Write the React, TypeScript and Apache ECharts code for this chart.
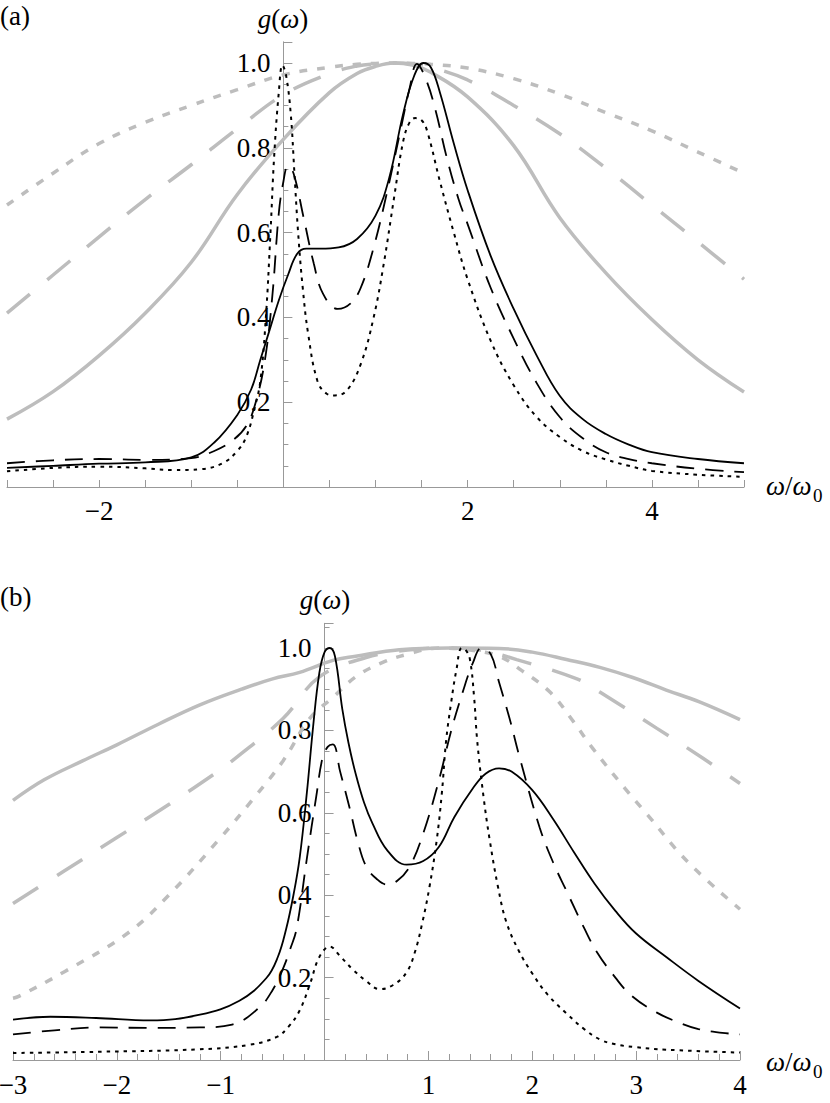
import React, { useEffect, useRef } from 'react';
import * as echarts from 'echarts';

const FONT = '"Liberation Serif", "DejaVu Serif", serif';
const AX = '#999999';
const GRAY = '#bdbdbd';
const BLACK = '#000000';

// ---------- Panel (a) ----------
const aGrayX = [-3, -2.5, -2, -1.5, -1, -0.5, 0, 0.5, 0.8, 1.0, 1.2, 1.4, 1.6, 2, 2.5, 3, 3.5, 4, 4.5, 5];
const aGrayDotY = [0.665, 0.74, 0.81, 0.86, 0.9, 0.937, 0.972, 0.99, 0.997, 0.999, 1.0, 0.999, 0.997, 0.988, 0.963, 0.927, 0.883, 0.84, 0.79, 0.74];
const aGrayDashY = [0.41, 0.5, 0.59, 0.678, 0.76, 0.845, 0.925, 0.975, 0.993, 0.998, 1.0, 0.998, 0.99, 0.96, 0.9, 0.833, 0.752, 0.665, 0.578, 0.49];
const aGraySolidY = [0.16, 0.225, 0.31, 0.41, 0.53, 0.69, 0.82, 0.93, 0.975, 0.992, 1.0, 0.995, 0.978, 0.92, 0.805, 0.635, 0.505, 0.395, 0.3, 0.224];

const aSolidX = [-3, -2.5, -2, -1.5, -1, -0.75, -0.5, -0.35, -0.25, -0.15, -0.05, 0.05, 0.15, 0.25, 0.4, 0.6, 0.8, 1.0, 1.15, 1.3, 1.42, 1.52, 1.6, 1.7, 1.85, 2.0, 2.25, 2.5, 2.75, 3.0, 3.25, 3.5, 3.75, 4.0, 4.5, 5.0];
const aSolidY = [0.045, 0.05, 0.055, 0.058, 0.07, 0.105, 0.17, 0.23, 0.3, 0.37, 0.44, 0.5, 0.55, 0.562, 0.562, 0.565, 0.585, 0.64, 0.73, 0.88, 0.97, 1.0, 0.99, 0.93, 0.81, 0.7, 0.545, 0.42, 0.31, 0.215, 0.16, 0.125, 0.1, 0.082, 0.066, 0.056];

const aDashX = [-3, -2.5, -2, -1.5, -1, -0.75, -0.55, -0.4, -0.3, -0.2, -0.12, -0.05, 0.0, 0.05, 0.11, 0.22, 0.33, 0.43, 0.59, 0.73, 0.84, 0.98, 1.13, 1.27, 1.37, 1.45, 1.55, 1.65, 1.77, 1.9, 2.0, 2.25, 2.5, 2.75, 3.0, 3.25, 3.5, 3.75, 4.0, 4.5, 5.0];
const aDashY = [0.056, 0.063, 0.066, 0.064, 0.068, 0.085, 0.11, 0.145, 0.2, 0.3, 0.45, 0.645, 0.72, 0.757, 0.74, 0.635, 0.527, 0.456, 0.42, 0.433, 0.47, 0.565, 0.7, 0.84, 0.94, 0.998, 0.96, 0.89, 0.78, 0.68, 0.62, 0.47, 0.35, 0.245, 0.165, 0.115, 0.082, 0.066, 0.056, 0.043, 0.035];

const aDotX = [-3, -2.5, -2, -1.5, -1.2, -0.9, -0.66, -0.5, -0.4, -0.31, -0.25, -0.19, -0.14, -0.1, -0.05, -0.01, 0.03, 0.08, 0.12, 0.16, 0.21, 0.27, 0.37, 0.47, 0.56, 0.69, 0.84, 0.98, 1.09, 1.2, 1.3, 1.37, 1.43, 1.5, 1.56, 1.7, 1.85, 2.0, 2.25, 2.5, 2.75, 3.0, 3.25, 3.5, 3.75, 4.0, 4.5, 5.0];
const aDotY = [0.037, 0.045, 0.048, 0.044, 0.04, 0.042, 0.056, 0.085, 0.12, 0.188, 0.25, 0.4, 0.6, 0.78, 0.93, 0.995, 0.97, 0.88, 0.74, 0.6, 0.47, 0.36, 0.25, 0.22, 0.216, 0.228, 0.29, 0.4, 0.527, 0.68, 0.815, 0.86, 0.87, 0.865, 0.84, 0.72, 0.6, 0.49, 0.345, 0.24, 0.165, 0.118, 0.085, 0.065, 0.05, 0.038, 0.029, 0.024];

// ---------- Panel (b) ----------
const bGraySolidX = [-3, -2.7, -2.33, -2, -1.6, -1.2, -0.8, -0.5, -0.24, 0.08, 0.3, 0.72, 1.2, 1.68, 2.0, 2.33, 2.65, 2.96, 3.29, 3.61, 4.0];
const bGraySolidY = [0.63, 0.68, 0.726, 0.765, 0.815, 0.862, 0.9, 0.925, 0.941, 0.97, 0.98, 0.996, 1.0, 0.999, 0.99, 0.972, 0.953, 0.929, 0.898, 0.869, 0.826];

const bGrayDashX = [-3, -2.5, -2, -1.5, -1, -0.89, -0.4, -0.05, 0.4, 0.8, 1.2, 1.5, 1.85, 2.43, 2.65, 3.2, 3.64, 4.0];
const bGrayDashY = [0.38, 0.46, 0.54, 0.62, 0.705, 0.726, 0.829, 0.93, 0.977, 0.995, 1.0, 0.995, 0.972, 0.925, 0.893, 0.805, 0.733, 0.671];

const bGrayDotX = [-3, -2.94, -2.5, -1.9, -1.5, -1, -0.7, -0.4, -0.14, 0.08, 0.3, 0.56, 0.8, 1.1, 1.4, 1.68, 1.9, 2.17, 2.4, 2.58, 2.89, 3.1, 3.5, 4.0];
const bGrayDotY = [0.15, 0.155, 0.215, 0.307, 0.4, 0.54, 0.63, 0.726, 0.83, 0.88, 0.93, 0.965, 0.985, 1.0, 0.995, 0.98, 0.945, 0.893, 0.82, 0.757, 0.66, 0.598, 0.48, 0.366];

const bSolidX = [-3, -2.64, -2.2, -1.68, -1.2, -0.82, -0.56, -0.45, -0.37, -0.3, -0.24, -0.17, -0.11, -0.05, 0.0, 0.05, 0.1, 0.17, 0.23, 0.3, 0.38, 0.46, 0.6, 0.79, 0.95, 1.1, 1.25, 1.43, 1.55, 1.68, 1.8, 2.0, 2.2, 2.4, 2.6, 2.8, 3.0, 3.29, 3.6, 4.0];
const bSolidY = [0.098, 0.105, 0.102, 0.096, 0.11, 0.144, 0.199, 0.25, 0.318, 0.4, 0.49, 0.65, 0.81, 0.94, 0.99, 1.0, 0.98, 0.853, 0.77, 0.694, 0.625, 0.575, 0.51, 0.474, 0.483, 0.517, 0.59, 0.66, 0.695, 0.708, 0.7, 0.655, 0.585, 0.505, 0.428, 0.362, 0.307, 0.25, 0.192, 0.125];

const bDashX = [-3, -2.6, -2.17, -1.7, -1.2, -0.89, -0.63, -0.5, -0.4, -0.33, -0.27, -0.17, -0.08, -0.02, 0.03, 0.08, 0.15, 0.24, 0.32, 0.4, 0.5, 0.6, 0.7, 0.82, 0.95, 1.1, 1.22, 1.33, 1.43, 1.51, 1.6, 1.68, 1.78, 1.88, 2.07, 2.2, 2.33, 2.5, 2.62, 2.8, 2.96, 3.2, 3.39, 3.6, 3.83, 4.0];
const bDashY = [0.062, 0.072, 0.079, 0.078, 0.079, 0.086, 0.127, 0.17, 0.222, 0.27, 0.318, 0.49, 0.64, 0.733, 0.76, 0.766, 0.7, 0.613, 0.53, 0.47, 0.44, 0.426, 0.435, 0.47, 0.55, 0.678, 0.8, 0.893, 0.965, 1.0, 0.985, 0.917, 0.83, 0.733, 0.565, 0.48, 0.41, 0.32, 0.263, 0.2, 0.155, 0.115, 0.093, 0.075, 0.066, 0.062];

const bDotX = [-3, -2.17, -1.2, -0.72, -0.46, -0.35, -0.24, -0.14, -0.05, 0.05, 0.15, 0.27, 0.4, 0.53, 0.66, 0.79, 0.87, 0.94, 1.01, 1.08, 1.13, 1.17, 1.22, 1.27, 1.32, 1.36, 1.4, 1.44, 1.47, 1.53, 1.59, 1.67, 1.75, 1.87, 2.0, 2.15, 2.33, 2.5, 2.65, 2.8, 3.0, 3.29, 4.0];
const bDotY = [0.017, 0.02, 0.026, 0.037, 0.056, 0.08, 0.12, 0.185, 0.25, 0.275, 0.252, 0.22, 0.192, 0.172, 0.182, 0.213, 0.262, 0.332, 0.42, 0.534, 0.65, 0.774, 0.87, 0.948, 1.0, 0.995, 0.972, 0.88, 0.774, 0.64, 0.534, 0.42, 0.335, 0.265, 0.21, 0.158, 0.113, 0.075, 0.05, 0.038, 0.031, 0.025, 0.018];

const pairs = (xs: number[], ys: number[]) => xs.map((x, i) => [x, ys[i]]);
const num = (v: number) => (v < 0 ? '\u2212' + Math.abs(v) : String(v));

const lineSeries = (name: string, xi: number, xs: number[], ys: number[], color: string, width: number, type: any) => ({
  name,
  type: 'line',
  xAxisIndex: xi,
  yAxisIndex: xi,
  data: pairs(xs, ys),
  showSymbol: false,
  smooth: 0.4,
  lineStyle: { color, width, type, cap: 'butt' },
  silent: true,
});

const yLabelFmt = (v: number) => {
  const k = v / 0.2;
  return v > 0.01 && Math.abs(k - Math.round(k)) < 1e-6 ? v.toFixed(1) : '';
};

const labelStyle = { fontFamily: FONT, fontSize: 27, color: '#000' };

// plot geometry (pixels)
const A_LEFT = 7, A_RIGHT = 744, B_LEFT = 13, B_RIGHT = 740;

export default function App() {
  const ref = useRef<HTMLDivElement>(null);
  useEffect(() => {
    const chart = echarts.init(ref.current!, null, { renderer: 'svg' });
    const aZero = A_LEFT + (A_RIGHT - A_LEFT) * 3 / 8;
    const bZero = B_LEFT + (B_RIGHT - B_LEFT) * 3 / 7;
    const option: any = {
      animation: false,
      backgroundColor: '#fff',
      grid: [
        { left: A_LEFT, right: 830 - A_RIGHT, top: 41.8, bottom: 616, containLabel: false, outerBoundsMode: 'none' },
        { left: B_LEFT, right: 830 - B_RIGHT, top: 623.3, bottom: 43, containLabel: false, outerBoundsMode: 'none' },
      ],
      xAxis: [
        {
          gridIndex: 0, type: 'value', min: -3, max: 5, interval: 0.5,
          axisLine: { onZero: false, lineStyle: { color: AX, width: 1 } },
          axisTick: { inside: true, length: 7, lineStyle: { color: AX } },
          splitLine: { show: false },
          axisLabel: { ...labelStyle, margin: 10, formatter: (v: number) => (v !== 0 && Math.abs(v % 2) < 1e-6 ? num(v) : '') },
        },
        {
          gridIndex: 1, type: 'value', min: -3, max: 4, interval: 1,
          axisLine: { onZero: false, lineStyle: { color: AX, width: 1 } },
          axisTick: { inside: true, length: 9, lineStyle: { color: AX } },
          minorTick: { show: true, splitNumber: 5, length: 6, lineStyle: { color: AX } },
          splitLine: { show: false },
          axisLabel: { ...labelStyle, margin: 11, formatter: (v: number) => (v !== 0 ? num(v) : '') },
        },
      ],
      yAxis: [
        {
          gridIndex: 0, type: 'value', min: 0, max: 1.05, interval: 0.2, position: 'left', offset: -(aZero - A_LEFT),
          axisLine: { show: true, onZero: false, lineStyle: { color: AX, width: 1 } },
          axisTick: { show: true, inside: true, length: 9, lineStyle: { color: AX } },
          minorTick: { show: true, splitNumber: 4, length: 5, lineStyle: { color: AX } },
          splitLine: { show: false },
          axisLabel: { ...labelStyle, margin: 13, formatter: yLabelFmt },
        },
        {
          gridIndex: 1, type: 'value', min: 0, max: 1.06, interval: 0.2, position: 'left', offset: -(bZero - B_LEFT),
          axisLine: { show: true, onZero: false, lineStyle: { color: AX, width: 1 } },
          axisTick: { show: true, inside: true, length: 9, lineStyle: { color: AX } },
          minorTick: { show: true, splitNumber: 4, length: 5, lineStyle: { color: AX } },
          splitLine: { show: false },
          axisLabel: { ...labelStyle, margin: 13, formatter: yLabelFmt },
        },
      ],
      series: [
        lineSeries('a gray dotted', 0, aGrayX, aGrayDotY, GRAY, 3.5, [8, 10]),
        lineSeries('a gray dashed', 0, aGrayX, aGrayDashY, GRAY, 3.5, [30, 22]),
        lineSeries('a gray solid', 0, aGrayX, aGraySolidY, GRAY, 3.5, 'solid'),
        lineSeries('a solid', 0, aSolidX, aSolidY, BLACK, 1.8, 'solid'),
        lineSeries('a dashed', 0, aDashX, aDashY, BLACK, 1.8, [18, 11]),
        lineSeries('a dotted', 0, aDotX, aDotY, BLACK, 2, [3.5, 5]),
        lineSeries('b gray solid', 1, bGraySolidX, bGraySolidY, GRAY, 3.5, 'solid'),
        lineSeries('b gray dashed', 1, bGrayDashX, bGrayDashY, GRAY, 3.5, [30, 22]),
        lineSeries('b gray dotted', 1, bGrayDotX, bGrayDotY, GRAY, 3.5, [8, 10]),
        lineSeries('b solid', 1, bSolidX, bSolidY, BLACK, 1.8, 'solid'),
        lineSeries('b dashed', 1, bDashX, bDashY, BLACK, 1.8, [18, 11]),
        lineSeries('b dotted', 1, bDotX, bDotY, BLACK, 2, [3.5, 5]),
      ],
      graphic: [
        { type: 'text', x: 0, y: 16, style: { text: '(a)', fontFamily: FONT, fontSize: 27, fill: '#000', align: 'left', verticalAlign: 'middle' } },
        { type: 'text', x: 0, y: 597, style: { text: '(b)', fontFamily: FONT, fontSize: 27, fill: '#000', align: 'left', verticalAlign: 'middle' } },
        {
          type: 'text', x: 283, y: 19,
          style: {
            text: '{i|g}{n|(}{i|ω}{n|)}', align: 'center', verticalAlign: 'middle', fill: '#000',
            rich: { i: { fontFamily: FONT, fontSize: 27, fontStyle: 'italic' }, n: { fontFamily: FONT, fontSize: 27 } },
          },
        },
        {
          type: 'text', x: 325, y: 600,
          style: {
            text: '{i|g}{n|(}{i|ω}{n|)}', align: 'center', verticalAlign: 'middle', fill: '#000',
            rich: { i: { fontFamily: FONT, fontSize: 27, fontStyle: 'italic' }, n: { fontFamily: FONT, fontSize: 27 } },
          },
        },
        {
          type: 'text', x: 766, y: 486,
          style: {
            text: '{i|ω}{n|/}{i|ω}', align: 'left', verticalAlign: 'middle', fill: '#000',
            rich: { i: { fontFamily: FONT, fontSize: 27, fontStyle: 'italic' }, n: { fontFamily: FONT, fontSize: 27 } },
          },
        },
        { type: 'text', x: 813, y: 495, style: { text: '0', fontFamily: FONT, fontSize: 19, fill: '#000', align: 'left', verticalAlign: 'middle' } },
        {
          type: 'text', x: 766, y: 1062,
          style: {
            text: '{i|ω}{n|/}{i|ω}', align: 'left', verticalAlign: 'middle', fill: '#000',
            rich: { i: { fontFamily: FONT, fontSize: 27, fontStyle: 'italic' }, n: { fontFamily: FONT, fontSize: 27 } },
          },
        },
        { type: 'text', x: 813, y: 1071, style: { text: '0', fontFamily: FONT, fontSize: 19, fill: '#000', align: 'left', verticalAlign: 'middle' } },
      ],
    };
    chart.setOption(option);
    return () => chart.dispose();
  }, []);
  return <div ref={ref} style={{ position: 'absolute', left: 0, top: 0, width: 830, height: 1103, background: '#fff' }} />;
}
